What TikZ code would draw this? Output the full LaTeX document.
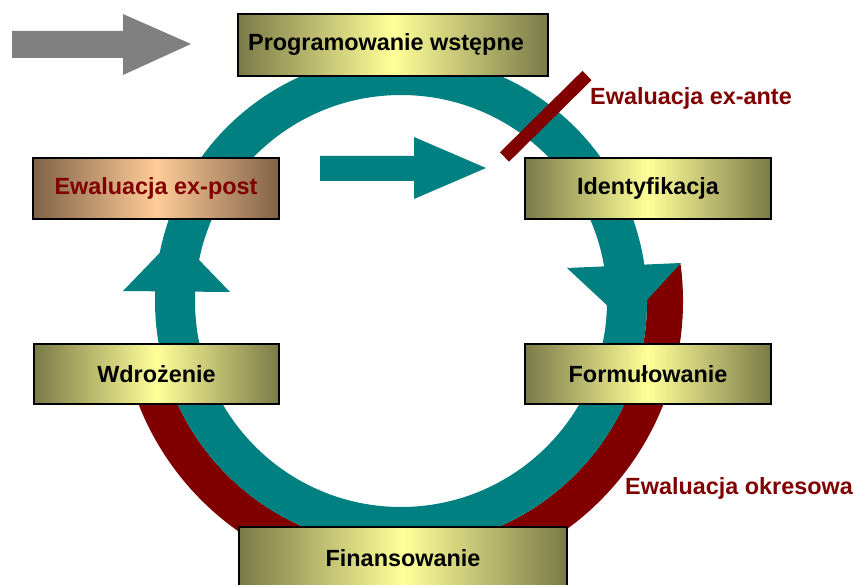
\documentclass[tikz,border=0pt]{standalone}
\usepackage{fontspec}
\setmainfont{Liberation Sans}
\definecolor{ringteal}{HTML}{008080}
\definecolor{evalred}{HTML}{800000}
\definecolor{arrowgray}{HTML}{808080}
\definecolor{oliveedge}{RGB}{122,122,72}
\definecolor{yellowmid}{RGB}{255,255,153}
\definecolor{brownedge}{RGB}{128,98,70}
\definecolor{peachmid}{RGB}{255,204,153}
\tikzset{
  box/.style={draw=black, line width=2.5pt, left color=oliveedge, right color=oliveedge,
    middle color=yellowmid, inner sep=0pt, text=black,
    font=\fontsize{23.4}{28}\selectfont\bfseries},
  postbox/.style={box, left color=brownedge, right color=brownedge, middle color=peachmid,
    text=evalred},
  evaltext/.style={text=evalred, inner sep=0pt, font=\fontsize{23.4}{28}\selectfont\bfseries},
}
\begin{document}
\begin{tikzpicture}[x=1pt, y=-1pt]
\useasboundingbox (0,0) rectangle (854,585);
\clip (0,0) rectangle (854,585);
\fill[white] (0,0) rectangle (854,585);
% grey entry arrow
\fill[arrowgray] (12,31) -- (123,31) -- (123,14) -- (191,44) -- (123,75) -- (123,58) -- (12,58) -- cycle;
% red periodic evaluation arc
\draw[evalred, line width=36pt] (401,301) ++(-7.5:264) arc[start angle=-7.5, end angle=166, radius=264];
% teal cycle ring
\draw[ringteal, line width=40pt] (401,301) circle[radius=226];
% arrowheads on ring
\fill[ringteal] (567,268) -- (681,263) -- (626,323) -- cycle;
\fill[ringteal] (123,291) -- (230,292) -- (176,236) -- cycle;
% inner arrow
\fill[ringteal] (320,156) -- (414,156) -- (414,137) -- (486,168) -- (414,199) -- (414,181) -- (320,181) -- cycle;
% ex-ante bar
\draw[evalred, line width=13pt] (587,75.5) -- (504.5,157);
% boxes
\node[box, minimum width=310pt, minimum height=62pt] (prog) at (393,45) {Programowanie wstępne\kern14pt};
\node[postbox, minimum width=246pt, minimum height=61pt] (expost) at (156,188.5) {Ewaluacja ex-post};
\node[box, minimum width=246pt, minimum height=61pt] (ident) at (648,188.5) {Identyfikacja};
\node[box, minimum width=245pt, minimum height=60pt] (wdr) at (156.5,374) {Wdrożenie};
\node[box, minimum width=246pt, minimum height=60pt] (form) at (648,374) {Formułowanie};
\node[box, minimum width=328pt, minimum height=62pt] (fin) at (403,558) {Finansowanie};
% labels
\node[evaltext, anchor=west] (exante) at (590,98) {Ewaluacja ex-ante};
\node[evaltext, anchor=west] (okres) at (625,488) {Ewaluacja okresowa};
\end{tikzpicture}
\end{document}
